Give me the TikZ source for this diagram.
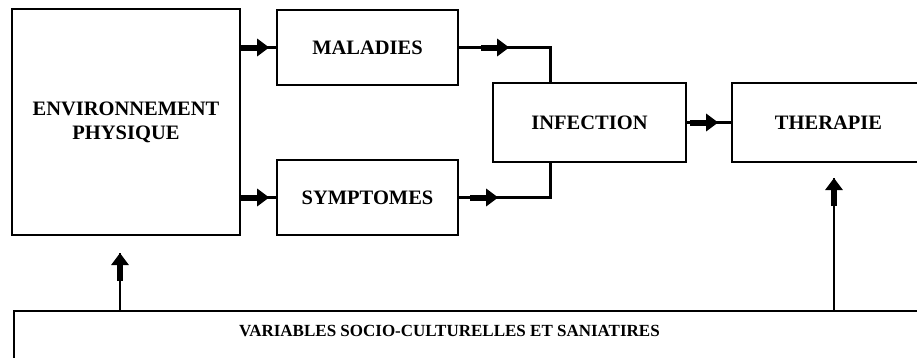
\documentclass[tikz,border=0pt]{standalone}
\usepackage{fontspec}
\setmainfont{Liberation Serif}
\usetikzlibrary{arrows.meta,decorations.markings,calc}
\tikzset{
  box/.style={draw,line width=2.4pt,inner sep=0pt,align=center,
    font=\bfseries\fontsize{20.5}{24}\selectfont},
  flow/.style={line width=2.4pt,postaction={decorate},
    decoration={markings,mark=at position #1 with
      {\draw[line width=6pt,-{Triangle[length=12pt,width=17pt]}] (-28pt,0) -- (0pt,0);}}},
}
\begin{document}
\begin{tikzpicture}[x=1pt,y=-1pt]
\useasboundingbox (0,0) rectangle (917,357);
\node[box,minimum width=228pt,minimum height=226pt] (env) at (126,122) {ENVIRONNEMENT\\PHYSIQUE};
\node[box,minimum width=181pt,minimum height=75pt] (mal) at (367.5,47.5) {MALADIES};
\node[box,minimum width=181pt,minimum height=75pt] (sym) at (367.5,197.5) {SYMPTOMES};
\node[box,minimum width=193pt,minimum height=79pt] (inf) at (589.5,122.5) {INFECTION};
\node[box,minimum width=193pt,minimum height=79pt] (the) at (828.5,122.5) {THERAPIE};
\node[box,minimum width=912pt,minimum height=55pt,anchor=north west] (var) at (13,310) {};
\node[font=\bfseries\fontsize{17}{20}\selectfont] (varlabel) at (449.5,331) {VARIABLES SOCIO-CULTURELLES ET SANIATIRES};
% free ends
\coordinate (infa) at ($(inf.north west)!0.3!(inf.north east)$);
\coordinate (infb) at ($(inf.south west)!0.3!(inf.south east)$);
\coordinate (envtip) at (120,253);
\coordinate (thetip) at (834,178);
% connectors
\draw[flow=28pt] (env.east |- mal.west) -- (mal.west);
\draw[flow=28pt] (env.east |- sym.west) -- (sym.west);
\draw[flow=50pt] (mal.east) -| (infa);
\draw[flow=39pt] (sym.east) -| (infb);
\draw[flow=31pt] (inf.east) -- (the.west);
\draw[flow=1] (var.north -| envtip) -- (envtip);
\draw[flow=1] (var.north -| thetip) -- (thetip);
\end{tikzpicture}
\end{document}
